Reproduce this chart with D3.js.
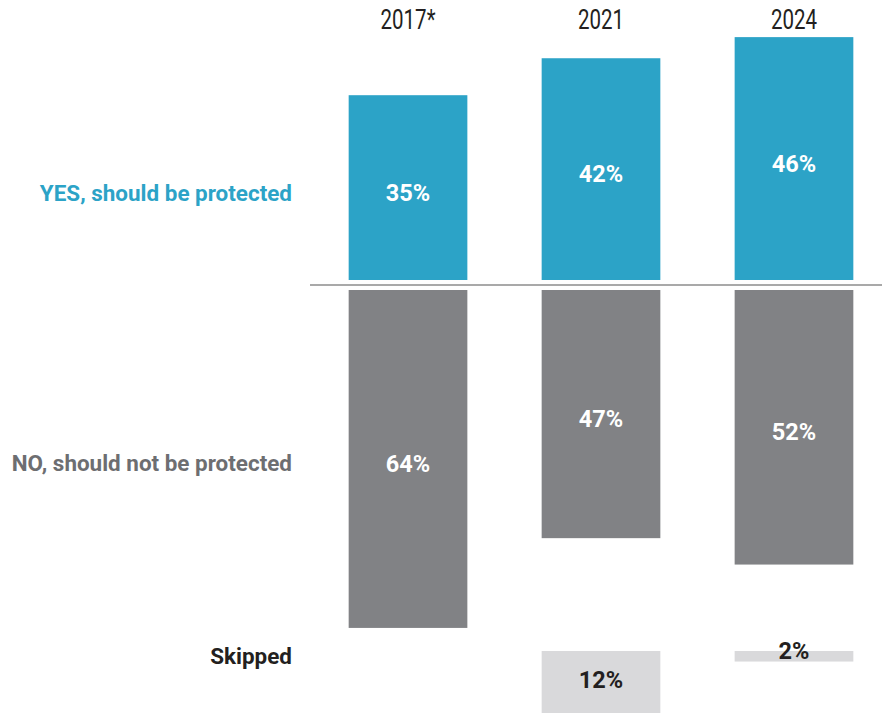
<!DOCTYPE html>
<html>
<head>
<meta charset="utf-8">
<script src="https://cdn.jsdelivr.net/npm/d3@7"></script>
<style>
  html, body { margin: 0; padding: 0; background: #fff; }
  svg { display: block; font-family: Roboto, "Noto Sans", sans-serif; }
</style>
</head>
<body>
<svg id="chart" width="882" height="713"></svg>
<script>
// Survey answers by year (percent)
const years = ["2017*", "2021", "2024"];
const yesValues = [35, 42, 46];
const noValues = [64, 47, 52];
const skippedValues = [null, 12, 2];
const rowLabels = ["YES, should be protected", "NO, should not be protected", "Skipped"];

const colors = { yes: "#2ca3c7", no: "#818285", skipped: "#d9d9db",
                 yesText: "#2ca3c7", noText: "#6d6e71", dark: "#231f20" };

const svg = d3.select("#chart");

// horizontal band for the three year columns
const x = d3.scaleBand().domain(years).range([312, 890]).paddingInner(0.385).paddingOuter(0.19);

// one shared px-per-percent scale for all three stacks
const unit = d3.scaleLinear().domain([0, 100]).range([0, 528]);
const yesBase = 280, noTop = 290, skipTop = 651;

// stretch or narrow the rendered text horizontally
function condense(sel, factor) {
  sel.each(function () {
    const w = this.getComputedTextLength();
    d3.select(this).attr("textLength", w * factor).attr("lengthAdjust", "spacingAndGlyphs");
  });
}

// year headers
svg.append("g").selectAll("text").data(years).join("text")
  .attr("x", d => x(d) + x.bandwidth() / 2)
  .attr("y", 29)
  .attr("text-anchor", "middle")
  .attr("font-size", 27)
  .attr("fill", colors.dark)
  .text(d => d)
  .call(condense, 0.76);

// YES bars (grow upward from the baseline)
const yesG = svg.append("g");
yesG.selectAll("rect").data(years).join("rect")
  .attr("x", d => x(d))
  .attr("width", x.bandwidth())
  .attr("y", (d, i) => yesBase - unit(yesValues[i]))
  .attr("height", (d, i) => unit(yesValues[i]))
  .attr("fill", colors.yes);
yesG.selectAll("text").data(years).join("text")
  .attr("x", d => x(d) + x.bandwidth() / 2)
  .attr("y", (d, i) => yesBase - unit(yesValues[i]) / 2 + 13)
  .attr("text-anchor", "middle")
  .attr("font-size", 24).attr("font-weight", 700).attr("fill", "#fff")
  .text((d, i) => yesValues[i] + "%")
  .call(condense, 0.98);

// divider
svg.append("line")
  .attr("x1", 310).attr("x2", 882).attr("y1", 285).attr("y2", 285)
  .attr("stroke", "#8c8c8c").attr("stroke-width", 1.6);

// NO bars (hang downward)
const noG = svg.append("g");
noG.selectAll("rect").data(years).join("rect")
  .attr("x", d => x(d))
  .attr("width", x.bandwidth())
  .attr("y", noTop)
  .attr("height", (d, i) => unit(noValues[i]))
  .attr("fill", colors.no);
noG.selectAll("text").data(years).join("text")
  .attr("x", d => x(d) + x.bandwidth() / 2)
  .attr("y", (d, i) => noTop + unit(noValues[i]) / 2 + 13)
  .attr("text-anchor", "middle")
  .attr("font-size", 24).attr("font-weight", 700).attr("fill", "#fff")
  .text((d, i) => noValues[i] + "%")
  .call(condense, 0.98);

// Skipped bars
const skipData = years.map((d, i) => ({ year: d, v: skippedValues[i] })).filter(d => d.v != null);
const skG = svg.append("g");
skG.selectAll("rect").data(skipData).join("rect")
  .attr("x", d => x(d.year))
  .attr("width", x.bandwidth())
  .attr("y", skipTop)
  .attr("height", d => unit(d.v))
  .attr("fill", colors.skipped);
skG.selectAll("text").data(skipData).join("text")
  .attr("x", d => x(d.year) + x.bandwidth() / 2)
  .attr("y", d => unit(d.v) > 30 ? skipTop + unit(d.v) / 2 + 5 : skipTop + 8)
  .attr("text-anchor", "middle")
  .attr("font-size", 24).attr("font-weight", 700).attr("fill", colors.dark)
  .text(d => d.v + "%")
  .call(condense, 0.98);

// row labels
const rowY = [201, 471, 664];
const rowColor = [colors.yesText, colors.noText, colors.dark];
svg.append("g").selectAll("text").data(rowLabels).join("text")
  .attr("x", 292)
  .attr("y", (d, i) => rowY[i])
  .attr("text-anchor", "end")
  .attr("font-size", 22).attr("font-weight", 700)
  .attr("fill", (d, i) => rowColor[i])
  .text(d => d)
  .call(condense, 1.02);
</script>
</body>
</html>
